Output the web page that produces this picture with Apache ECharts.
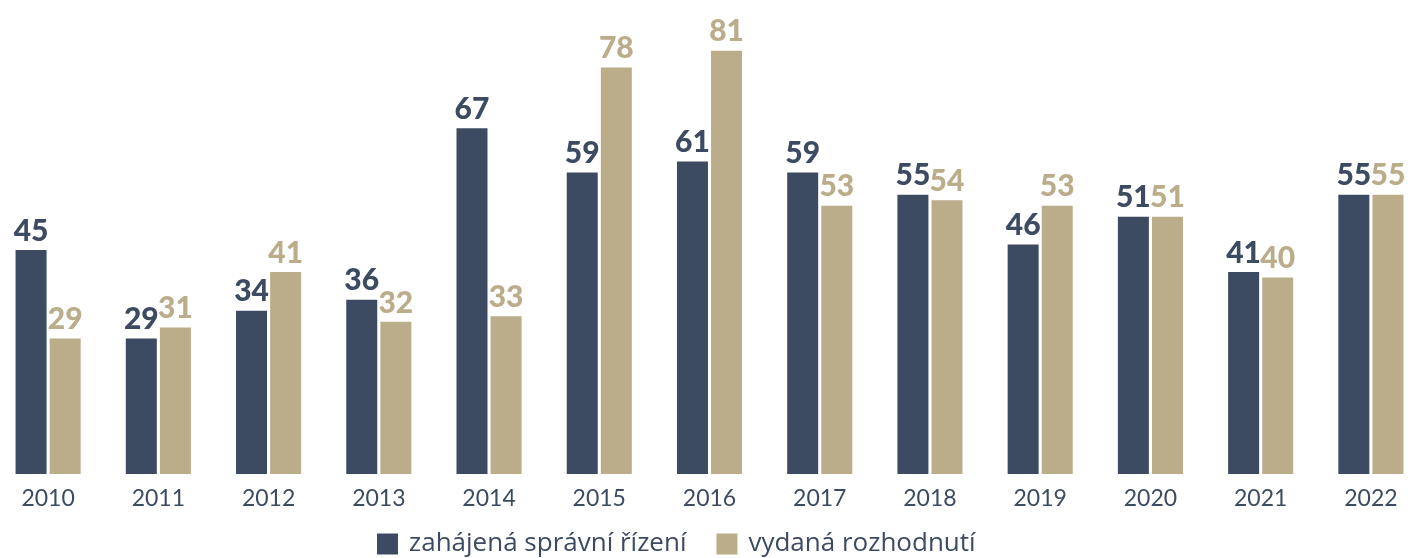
<!DOCTYPE html>
<html lang="cs">
<head>
    <meta charset="utf-8">
    <script src="https://cdn.jsdelivr.net/npm/echarts@6/dist/echarts.min.js"></script>
    <style>
        html, body { margin: 0; padding: 0; background: #fff; }
        #main { width: 1408px; height: 558px; }
    </style>
</head>
<body>
<div id="main"></div>
<script>
    var years = ['2010', '2011', '2012', '2013', '2014', '2015', '2016', '2017', '2018', '2019', '2020', '2021', '2022'];
    var zahajena = [45, 29, 34, 36, 67, 59, 61, 59, 55, 46, 51, 41, 55];
    var vydana = [29, 31, 41, 32, 33, 78, 81, 53, 54, 53, 51, 40, 55];

    var dark = '#3c4b62';
    var tan = '#bbad8a';

    function labelStyle(color) {
        return {
            show: true,
            position: 'top',
            distance: 4,
            color: color,
            fontFamily: 'Lato',
            fontWeight: 900,
            fontSize: 30
        };
    }

    var myChart = echarts.init(document.getElementById('main'));
    myChart.setOption({
        animation: false,
        grid: { left: -7, width: 1433, top: 1, bottom: 84, outerBoundsMode: 'none', containLabel: false },
        legend: {
            bottom: -4,
            left: 372,
            itemWidth: 21,
            itemHeight: 21,
            itemGap: 30,
            icon: 'rect',
            textStyle: { color: dark, fontFamily: 'Open Sans', fontSize: 26, padding: [0, 0, 0, 6] },
            data: ['zahájená správní řízení', 'vydaná rozhodnutí']
        },
        xAxis: {
            type: 'category',
            data: years,
            axisLine: { show: false },
            axisTick: { show: false },
            axisLabel: { color: dark, fontFamily: 'Lato', fontSize: 23, margin: 13 }
        },
        yAxis: {
            type: 'value',
            min: 4.5,
            max: 90,
            show: false,
            splitLine: { show: false }
        },
        series: [{
            name: 'zahájená správní řízení',
            type: 'bar',
            data: zahajena,
            barWidth: 31,
            barGap: '10%',
            itemStyle: { color: dark },
            label: labelStyle(dark)
        }, {
            name: 'vydaná rozhodnutí',
            type: 'bar',
            data: vydana,
            barWidth: 31,
            itemStyle: { color: tan },
            label: labelStyle(tan)
        }]
    });
</script>
</body>
</html>
